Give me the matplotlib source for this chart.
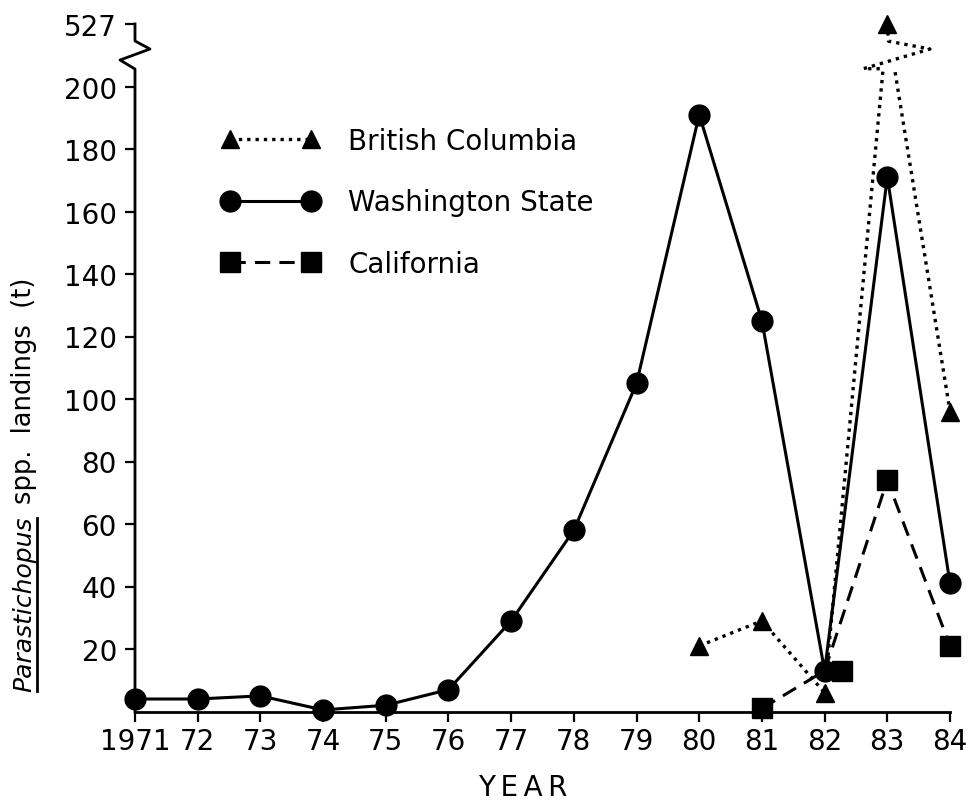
import numpy as np
import matplotlib
matplotlib.use("Agg")
import matplotlib.pyplot as plt
import matplotlib.transforms as mtrans
from matplotlib.lines import Line2D
from matplotlib.patches import Rectangle

# data (t)
years = [1971, 1972, 1973, 1974, 1975, 1976, 1977, 1978, 1979, 1980, 1981, 1982, 1983, 1984]
washington = [4, 4, 5, 0.5, 2, 7, 29, 58, 105, 191, 125, 13, 171, 41]
bc_years = [1980, 1981, 1982, 1983, 1984]
british_columbia = [21, 29, 6, 527, 96]
ca_years = [1981, 1982, 1983, 1984]
california = [1, 13, 74, 21]
xtick_labels = ["1971", "72", "73", "74", "75", "76", "77", "78", "79", "80", "81", "82", "83", "84"]
ytick_values = [20, 40, 60, 80, 100, 120, 140, 160, 180, 200, 527]

# broken y axis: everything above 200 squeezed into a small band
BRK = 200
SQ = 20 / 327


def fwd(v):
    v = np.asarray(v, dtype=float)
    return np.where(v <= BRK, v, BRK + (v - BRK) * SQ)


def inv(s):
    s = np.asarray(s, dtype=float)
    return np.where(s <= BRK, s, BRK + (s - BRK) / SQ)


plt.rcParams["font.family"] = "DejaVu Sans"
fig = plt.figure(figsize=(9.73, 8.03), dpi=100)
ax = fig.add_axes([135 / 973, (803 - 712.5) / 803, (950 - 135) / 973, 687.5 / 803])
ax.set_yscale("function", functions=(fwd, inv))

dot = (0, (1, 1.5))
# BC line is cut at the break, markers drawn on their own
bc_line, = ax.plot(bc_years, british_columbia, color="black", lw=2.4, ls=dot, zorder=3)
bc_line.set_clip_path(Rectangle((-0.1, -0.1), 1.2, 1.035, transform=ax.transAxes))
ax.plot(bc_years, british_columbia, ls="none", marker="^", ms=13, color="black",
        clip_on=False, zorder=3)
ax.plot(years, washington, color="black", lw=2.2, ls="-",
        marker="o", ms=15, mfc="black", mec="black",
        clip_on=False, zorder=4)
ax.plot(ca_years, california, color="black", lw=2.2, ls=(0, (5, 3)),
        marker="s", ms=14, mfc="black", mec="black",
        clip_on=False, zorder=3, markevery=[0, 2, 3])
# the 1982 California square sits beside the Washington circle in the original
off = mtrans.ScaledTranslation(17 / 100, 0, fig.dpi_scale_trans)
ax.plot([ca_years[1]], [california[1]], ls="none", marker="s", ms=14, color="black",
        transform=ax.transData + off, clip_on=False, zorder=5)

# dotted break symbol on the British Columbia line
pk = bc_years[3]
ax.plot([pk - 0.12, pk - 0.38, pk + 0.68, pk + 0.02, pk],
        [0.935, 0.935, 0.9636, 0.975, 0.995],
        color="black", lw=2.4, ls=dot,
        transform=ax.get_xaxis_transform(), clip_on=False, zorder=3)

ax.set_xlim(1971, 1984)
ax.set_ylim(0, 527)
ax.set_xticks(years)
ax.set_xticklabels(xtick_labels)
ax.set_yticks(ytick_values)
ax.set_yticklabels([str(v) for v in ytick_values])
ax.tick_params(direction="out", length=7, width=1.6, labelsize=20, pad=4)
ax.tick_params(axis="y", pad=6)

for s in ["top", "right", "left"]:
    ax.spines[s].set_visible(False)
ax.spines["bottom"].set_linewidth(2)

# left axis line with break zigzag
zx = 15 / 815
ax.plot([0, 0, -zx, zx, 0, 0], [0, 0.9345, 0.9476, 0.9636, 0.9753, 1.0],
        color="black", lw=2, transform=ax.transAxes, clip_on=False)

ax.set_xlabel("Y\u2009E\u2009A\u2009R", fontsize=20)
ax.xaxis.set_label_coords((523 - 135) / 815, (712.5 - 774) / 687.5)

handles = [
    Line2D([], [], color="black", lw=2.4, ls=dot, marker="^", ms=13),
    Line2D([], [], color="black", lw=2.2, ls="-", marker="o", ms=15),
    Line2D([], [], color="black", lw=2.2, ls=(0, (5, 3)), marker="s", ms=14),
]
ax.legend(handles, ["British Columbia", "Washington State", "California"],
          loc="upper left", bbox_to_anchor=(222 / 973, 1 - 128 / 803),
          bbox_transform=fig.transFigure, frameon=False, numpoints=2,
          handlelength=3.5, handletextpad=1.05, labelspacing=1.2,
          fontsize=20, borderpad=0, borderaxespad=0)

# y label: italic underlined genus + plain remainder
fig.canvas.draw()
r = fig.canvas.get_renderer()
t1 = fig.text(24 / 973, (803 - 692) / 803, "Parastichopus", rotation=90,
              style="italic", fontsize=18, ha="center", va="bottom")
bb = t1.get_window_extent(renderer=r)
fig.text(24 / 973, (bb.y1 + 12) / 803, "spp.  landings  (t)", rotation=90,
         fontsize=18.5, ha="center", va="bottom")
fig.add_artist(Line2D([(bb.x1 + 1) / 973, (bb.x1 + 1) / 973],
                      [bb.y0 / 803, (bb.y1 - 2) / 803], color="black", lw=2,
                      transform=fig.transFigure))

fig.savefig("out.png", dpi=100)
